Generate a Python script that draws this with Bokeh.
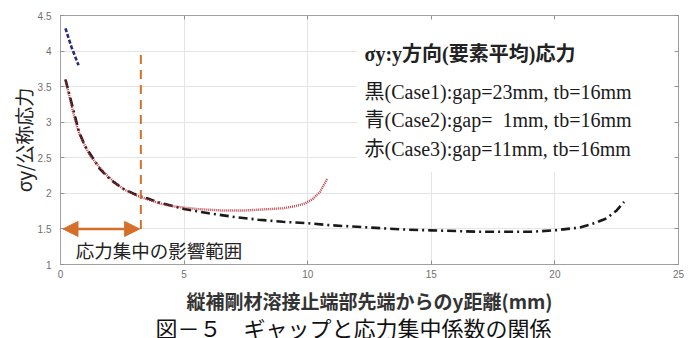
import math
from bokeh.plotting import figure
from bokeh.models import (Range1d, LinearAxis, Label, Arrow, NormalHead,
                          FixedTicker, Title)
from bokeh.embed import file_html
from bokeh.resources import INLINE

# ---- data ----
x_ticks = [0, 5, 10, 15, 20, 25]
y_ticks = [1, 1.5, 2, 2.5, 3, 3.5, 4, 4.5]

case1_x = [0.2, 0.5, 0.75, 1.0, 1.3, 1.6, 2.0, 2.5, 3.0, 3.5, 4.0, 5.0, 6.0, 7.0,
           8.0, 9.0, 10.0, 11.0, 12.0, 13.0, 14.0, 15.0, 16.0, 17.0, 18.0, 19.0,
           20.0, 21.0, 21.6, 22.1, 22.5, 22.8]
case1_y = [3.60, 3.20, 2.86, 2.66, 2.50, 2.34, 2.20, 2.07, 1.99, 1.93, 1.87, 1.78,
           1.72, 1.67, 1.63, 1.60, 1.58, 1.55, 1.53, 1.51, 1.49, 1.48, 1.47, 1.46,
           1.46, 1.46, 1.48, 1.52, 1.58, 1.65, 1.76, 1.88]

case2_x = [0.2, 0.45, 0.73]
case2_y = [4.32, 4.05, 3.80]

case3_x = [0.2, 0.4, 0.6, 0.8, 1.0, 1.2, 1.5, 1.8, 2.2, 2.6, 3.0, 3.4, 4.0, 4.5,
           5.0, 5.5, 6.0, 6.5, 7.0, 7.5, 8.0, 8.5, 9.0, 9.5, 9.9, 10.2, 10.5, 10.8]
case3_y = [3.60, 3.30, 3.02, 2.80, 2.66, 2.53, 2.40, 2.28, 2.15, 2.05, 1.98, 1.93,
           1.86, 1.82, 1.80, 1.78, 1.77, 1.76, 1.76, 1.76, 1.77, 1.78, 1.79, 1.82,
           1.86, 1.92, 2.02, 2.21]

influence_x = [0.1, 3.25]      # 応力集中の影響範囲
influence_y = 1.5
influence_top = 3.97

title_line = "σy:y方向(要素平均)応力"
case_labels = ["黒(Case1):gap=23mm, tb=16mm",
               "青(Case2):gap=\u00a0\u00a01mm, tb=16mm",
               "赤(Case3):gap=11mm, tb=16mm"]
annot_text = "応力集中の影響範囲"
x_title = "縦補剛材溶接止端部先端からのy距離(mm)"
y_title = "σy/公称応力"
caption = "図－５　ギャップと応力集中係数の関係"

ORANGE = "#d4702a"
JP = "Noto Sans CJK JP"
SERIF_JP = "'Liberation Serif', 'Noto Sans CJK JP'"
TICK_FONT = "'Liberation Sans Narrow', 'Liberation Sans', sans-serif"

p = figure(width=698, height=338, output_backend="svg", toolbar_location=None,
           x_range=Range1d(0, 25), y_range=Range1d(1, 4.5),
           min_border_left=60, min_border_right=20, min_border_top=15,
           min_border_bottom=74, background_fill_color="white",
           border_fill_color="white")
p.outline_line_color = "#a0a0a0"
p.outline_line_width = 1

for ax in (p.xaxis[0], p.yaxis[0]):
    ax.axis_line_color = "#a0a0a0"
    ax.major_tick_line_color = "#909090"
    ax.major_tick_in = 4
    ax.major_tick_out = 0
    ax.minor_tick_line_color = None
    ax.major_label_text_color = "#707070"
    ax.major_label_text_font = TICK_FONT
    ax.major_label_text_font_size = "10px"
p.xaxis.ticker = FixedTicker(ticks=x_ticks)
p.yaxis.ticker = FixedTicker(ticks=y_ticks)
p.xaxis.major_label_standoff = 5
p.yaxis.major_label_standoff = 9

p.yaxis.axis_label = y_title
p.yaxis.axis_label_text_font = JP
p.yaxis.axis_label_text_font_size = "19px"
p.yaxis.axis_label_text_font_style = "normal"
p.yaxis.axis_label_text_color = "#222222"
p.yaxis.axis_label_standoff = -2

p.xaxis.axis_label = x_title
p.xaxis.axis_label_text_font = JP
p.xaxis.axis_label_text_font_size = "19px"
p.xaxis.axis_label_text_font_style = "bold"
p.xaxis.axis_label_text_color = "#333333"
p.xaxis.axis_label_standoff = 6

for loc in ("above", "right"):
    ax = LinearAxis(ticker=FixedTicker(ticks=x_ticks if loc == "above" else y_ticks))
    ax.axis_line_color = "#a0a0a0"
    ax.major_tick_line_color = "#909090"
    ax.major_tick_in = 4
    ax.major_tick_out = 0
    ax.minor_tick_line_color = None
    ax.major_label_text_color = None
    ax.major_label_text_font_size = "8px"
    ax.major_label_standoff = 0
    p.add_layout(ax, loc)

p.add_layout(Title(text=caption, text_font=JP, text_font_size="22px",
                   text_font_style="normal", text_color="#111111",
                   align="left", offset=95, standoff=-15), "below")

p.xgrid.ticker = FixedTicker(ticks=x_ticks)
p.ygrid.ticker = FixedTicker(ticks=y_ticks)
p.xgrid.grid_line_color = "#e4e4e4"
p.ygrid.grid_line_color = "#e4e4e4"

# white box behind the case text
p.quad(left=[12.0], right=[25], bottom=[2.3], top=[4.5],
       fill_color="white", line_color=None)

# curves
p.line(case1_x, case1_y, line_color="#1a1a1a", line_width=2.6,
       line_dash="9 4 2 4")
p.line(case3_x, case3_y, line_color="#b02a35", line_width=2.4,
       line_dash="1 1", line_alpha=0.9)
p.line(case2_x, case2_y, line_color="#2a2a7a", line_width=2.6,
       line_dash="4 2")

# influence range
p.segment(x0=[influence_x[1]], y0=[influence_y], x1=[influence_x[1]],
          y1=[influence_top], line_color=ORANGE, line_width=2,
          line_dash="9 6")
p.add_layout(Arrow(x_start=influence_x[0], y_start=influence_y,
                   x_end=influence_x[1] - 0.05, y_end=influence_y,
                   line_color=ORANGE, line_width=2.5,
                   start=NormalHead(size=15, fill_color=ORANGE, line_color=ORANGE),
                   end=NormalHead(size=15, fill_color=ORANGE, line_color=ORANGE)))

p.add_layout(Label(x=0.62, y=1.2, text=annot_text, text_font=JP,
                   text_font_size="18.5px", text_color="#222222",
                   text_baseline="middle"))

# case text
p.add_layout(Label(x=12.3, y=3.96, text=title_line, text_font=SERIF_JP,
                   text_font_size="20px", text_font_style="bold",
                   text_color="#222222", text_baseline="middle"))
for lab, yy in zip(case_labels, [3.42, 3.03, 2.63]):
    p.add_layout(Label(x=12.3, y=yy, text=lab, text_font=SERIF_JP,
                       text_font_size="20px", text_color="#1a1a1a",
                       text_baseline="middle"))

open("out.html", "w").write(file_html(p, INLINE))
